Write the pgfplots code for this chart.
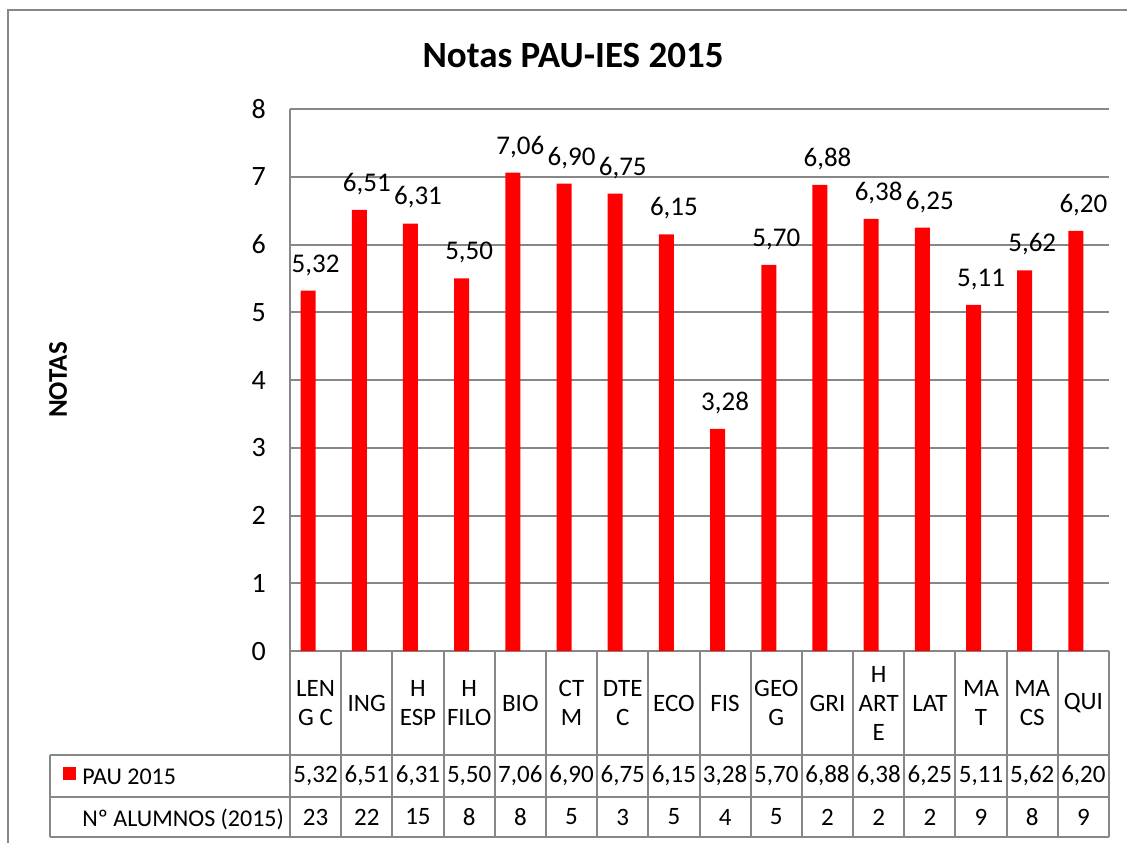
\documentclass[border=0pt]{standalone}
\usepackage{fontspec}
\setmainfont{Carlito}
\usepackage{pgfplots}
\usepackage{pgfplotstable}
\pgfplotsset{compat=1.18}
\definecolor{lgray}{HTML}{878787}
\definecolor{barred}{HTML}{FF0000}
\pgfplotstableread{
idx pau alu
0 5.32 23
1 6.51 22
2 6.31 15
3 5.50 8
4 7.06 8
5 6.90 5
6 6.75 3
7 6.15 5
8 3.28 4
9 5.70 5
10 6.88 2
11 6.38 2
12 6.25 2
13 5.11 9
14 5.62 8
15 6.20 9
}\data
\newcommand{\lbl}{\fontsize{12.5}{14.5}\selectfont}
\newcommand{\dlbl}{\fontsize{13.5}{15.5}\selectfont}
\newcommand{\tlbl}{\fontsize{14}{16}\selectfont}
\begin{document}
\begin{tikzpicture}
\useasboundingbox (0,0) rectangle (563.5pt,-421.5pt);
\begin{axis}[
  at={(145pt,-325.5pt)}, anchor=south west,
  scale only axis, width=409.5pt, height=271pt,
  xmin=-0.5, xmax=15.5, ymin=0, ymax=8,
  clip=false,
  axis lines*=left,
  axis line style={lgray, line width=1pt, -},
  ymajorgrids, grid style={lgray, line width=1pt},
  major tick length=0pt,
  ytick={0,1,...,8},
  yticklabel style={font=\tlbl, xshift=-8.5pt},
  /pgf/number format/assume math mode=true,
  xtick={0,1,...,15},
  xticklabels={{LEN\\G C},ING,{H\\ESP},{H\\FILO},BIO,{CT\\M},{DTE\\C},ECO,FIS,{GEO\\G},GRI,{H\\ART\\E},LAT,{MA\\T},{MA\\CS},QUI},
  xticklabel style={font=\lbl, align=center, anchor=center, yshift=-26pt},
]
\addplot[ybar, bar width=7.5pt, bar shift=-3.75pt, fill=barred, draw=none,
  nodes near coords={\pgfmathprintnumber[fixed, fixed zerofill, precision=2, use comma]{\pgfplotspointmeta}},
  every node near coord/.append style={font=\dlbl, text=black, yshift=4pt}]
  table[x=idx, y=pau] {\data};
\addplot[draw=none, mark=none, only marks, point meta=explicit,
  nodes near coords={\pgfmathprintnumber[fixed, fixed zerofill, precision=2, use comma]{\pgfplotspointmeta}},
  every node near coord/.append style={font=\lbl, text=black, anchor=center}]
  table[x=idx, y expr=-1.845, meta=pau] {\data};
\addplot[draw=none, mark=none, only marks, point meta=explicit,
  nodes near coords={\pgfmathprintnumber[fixed, precision=0]{\pgfplotspointmeta}},
  every node near coord/.append style={font=\lbl, text=black, anchor=center}]
  table[x=idx, y expr=-2.45, meta=alu] {\data};
\end{axis}
\begin{scope}[x=0.5pt, y=-0.5pt]
  \draw[lgray, line width=1pt] (8,843) -- (8,10) -- (1127,10);
  \foreach \yy in {755,797,837} \draw[lgray, line width=1pt] (50,\yy) -- (1109,\yy);
  \draw[lgray, line width=1pt] (50,755) -- (50,837);
  \foreach \i in {0,...,16} \draw[lgray, line width=1pt] ({290+51.1875*\i},651) -- ({290+51.1875*\i},837);
  \fill[barred] (63,767) rectangle (76,780);
  \node[anchor=base west, font=\fontsize{12}{14}\selectfont, inner sep=0pt] at (82,784) {PAU 2015};
  \node[anchor=base west, font=\fontsize{12}{14}\selectfont, inner sep=0pt] at (82,826) {Nº ALUMNOS (2015)};
  \node[font=\fontsize{18.5}{22}\selectfont\bfseries] at (573,55) {Notas PAU-IES 2015};
  \node[font=\fontsize{13.5}{15}\selectfont\bfseries, rotate=90] at (58,380) {NOTAS};
\end{scope}
\end{tikzpicture}
\end{document}
